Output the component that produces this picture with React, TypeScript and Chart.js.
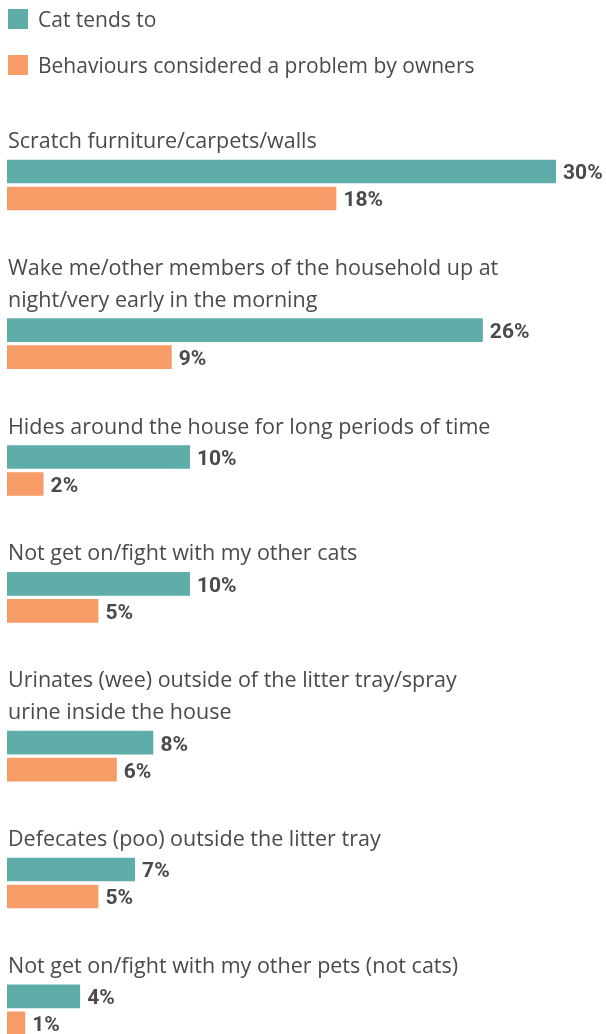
import React, { useEffect, useRef } from "react";
import { Chart, registerables } from "chart.js";

Chart.register(...registerables);

// ---- data ----
const categories: string[][] = [
  ["Scratch furniture/carpets/walls"],
  ["Wake me/other members of the household up at", "night/very early in the morning"],
  ["Hides around the house for long periods of time"],
  ["Not get on/fight with my other cats"],
  ["Urinates (wee) outside of the litter tray/spray", "urine inside the house"],
  ["Defecates (poo) outside the litter tray"],
  ["Not get on/fight with my other pets (not cats)"],
];
const catTendsTo = [30, 26, 10, 10, 8, 7, 4];
const problemByOwners = [18, 9, 2, 5, 6, 5, 1];
const seriesNames = ["Cat tends to", "Behaviours considered a problem by owners"];
const valueSuffix = "%";

// ---- style ----
const TEAL = "#5fada8";
const ORANGE = "#f79b67";
const TEXT = "#4a4a4a";
const LABEL_FONT = '21.5px "Open Sans", "Noto Sans", sans-serif';
const LEGEND_FONT = '21px "Open Sans", "Noto Sans", sans-serif';
const VALUE_FONT = 'bold 21px Roboto, "Liberation Sans", sans-serif';

// layout units: each label line is one unit, each bar pair adds three
const centers: number[] = [];
{
  let start = 0;
  categories.forEach((lines) => {
    centers.push(start + lines.length + 0.9);
    start += lines.length + 3;
  });
}

const legendPlugin = {
  id: "topLegend",
  afterDraw(chart: any) {
    const ctx = chart.ctx;
    ctx.save();
    chart.data.datasets.forEach((ds: any, i: number) => {
      const top = 9 + i * 46;
      ctx.fillStyle = ds.backgroundColor;
      ctx.fillRect(8, top, 20, 20);
      ctx.fillStyle = TEXT;
      ctx.font = LEGEND_FONT;
      ctx.textBaseline = "alphabetic";
      ctx.textAlign = "left";
      ctx.fillText(ds.label, 38, top + 18);
    });
    ctx.restore();
  },
};

const labelPlugin = {
  id: "barLabels",
  afterDatasetsDraw(chart: any) {
    const ctx = chart.ctx;
    ctx.save();
    ctx.textAlign = "left";
    ctx.textBaseline = "alphabetic";
    // values at bar ends
    chart.data.datasets.forEach((ds: any, di: number) => {
      const meta = chart.getDatasetMeta(di);
      meta.data.forEach((el: any, i: number) => {
        ctx.font = VALUE_FONT;
        ctx.fillStyle = TEXT;
        ctx.fillText(ds.data[i].x + valueSuffix, el.x + 7, el.y + 8);
      });
    });
    // category labels above each pair
    const meta0 = chart.getDatasetMeta(0);
    meta0.data.forEach((el: any, i: number) => {
      const lines = chart.data.labels[i] as string[];
      ctx.font = LABEL_FONT;
      ctx.fillStyle = TEXT;
      const lastBase = el.y - 23.5;
      lines.forEach((line: string, li: number) => {
        ctx.fillText(line, 8, lastBase - (lines.length - 1 - li) * 32);
      });
    });
    ctx.restore();
  },
};

export default function App() {
  const ref = useRef<HTMLCanvasElement | null>(null);
  useEffect(() => {
    if (!ref.current) return;
    const barStyle = {
      barThickness: 27,
      borderWidth: { top: 2, bottom: 2, left: 0, right: 0 },
      borderColor: "#ffffff",
      borderSkipped: false,
    };
    const chart = new Chart(ref.current, {
      type: "bar",
      data: {
        labels: categories as any,
        datasets: [
          {
            label: seriesNames[0],
            data: catTendsTo.map((v, i) => ({ x: v, y: centers[i] })),
            backgroundColor: TEAL,
            ...barStyle,
          } as any,
          {
            label: seriesNames[1],
            data: problemByOwners.map((v, i) => ({ x: v, y: centers[i] })),
            backgroundColor: ORANGE,
            ...barStyle,
          } as any,
        ],
      },
      options: {
        indexAxis: "y",
        animation: false,
        responsive: false,
        devicePixelRatio: 1,
        layout: { padding: { top: 124.7, left: 7, right: 0, bottom: 0 } },
        scales: {
          x: { type: "linear", min: 0, max: 32.73, display: false, offset: false },
          y: {
            type: "linear",
            reverse: true,
            offset: false,
            min: 0,
            max: centers[centers.length - 1] + 0.76,
            display: false,
          },
        },
        plugins: {
          legend: { display: false },
          tooltip: { enabled: false },
        },
      } as any,
      plugins: [legendPlugin, labelPlugin],
    });
    return () => chart.destroy();
  }, []);

  return (
    <div style={{ position: "fixed", left: 0, top: 0, width: 606, height: 1034, background: "#fff" }}>
      <canvas ref={ref} width={606} height={1034} style={{ display: "block" }} />
    </div>
  );
}
